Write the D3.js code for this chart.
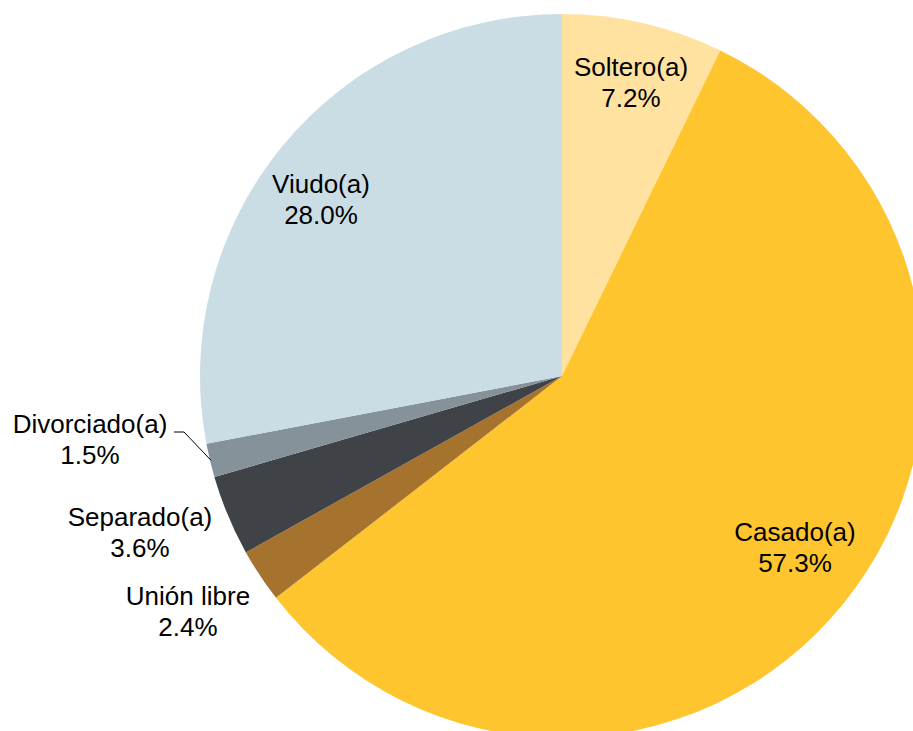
<!DOCTYPE html>
<html><head><meta charset="utf-8">
<script src="https://cdn.jsdelivr.net/npm/d3@7"></script>
<style>body{margin:0;background:#fff;overflow:hidden}</style>
</head><body>
<svg id="c" width="913" height="731"></svg>
<script>
const categories = ["Soltero(a)", "Casado(a)", "Unión libre", "Separado(a)", "Divorciado(a)", "Viudo(a)"];
const values = [7.2, 57.3, 2.4, 3.6, 1.5, 28.0];
const valueLabels = ["7.2%", "57.3%", "2.4%", "3.6%", "1.5%", "28.0%"];
const colors = ["#FFE1A0", "#FFC52E", "#A6732F", "#3F4247", "#85929A", "#CADDE4"];

const svg = d3.select("#c");
const cx = 562, cy = 376, r = 362;
const data = categories.map((c, i) => ({cat: c, v: values[i], lab: valueLabels[i], col: colors[i]}));
const pie = d3.pie().value(d => d.v).sort(null);
const arcs = pie(data);
const arc = d3.arc().innerRadius(0).outerRadius(r);
const g = svg.append("g").attr("transform", `translate(${cx},${cy})`);
g.selectAll("path").data(arcs).join("path").attr("d", arc).attr("fill", d => d.data.col);

const labelPos = {
  "Soltero(a)": [631, 76],
  "Casado(a)": [795, 541],
  "Unión libre": [188, 605],
  "Separado(a)": [140, 526],
  "Divorciado(a)": [90, 433],
  "Viudo(a)": [321, 193]
};
const lg = svg.append("g").attr("font-family", "Liberation Sans, Arial, sans-serif").attr("font-size", 26).attr("fill", "#000");
data.forEach(d => {
  const [x, y] = labelPos[d.cat];
  const t = lg.append("text").attr("text-anchor", "middle").attr("x", x).attr("y", y);
  t.append("tspan").attr("x", x).text(d.cat);
  t.append("tspan").attr("x", x).attr("dy", 30.5).text(d.lab);
});
const dArc = arcs[4];
const mid = (dArc.startAngle + dArc.endAngle) / 2;
const ex = cx + Math.sin(mid) * (r - 1), ey = cy - Math.cos(mid) * (r - 1);
svg.append("polyline")
  .attr("points", `174,432 184,432 ${ex},${ey}`)
  .attr("fill", "none").attr("stroke", "#000").attr("stroke-width", 1);
</script>
</body></html>
